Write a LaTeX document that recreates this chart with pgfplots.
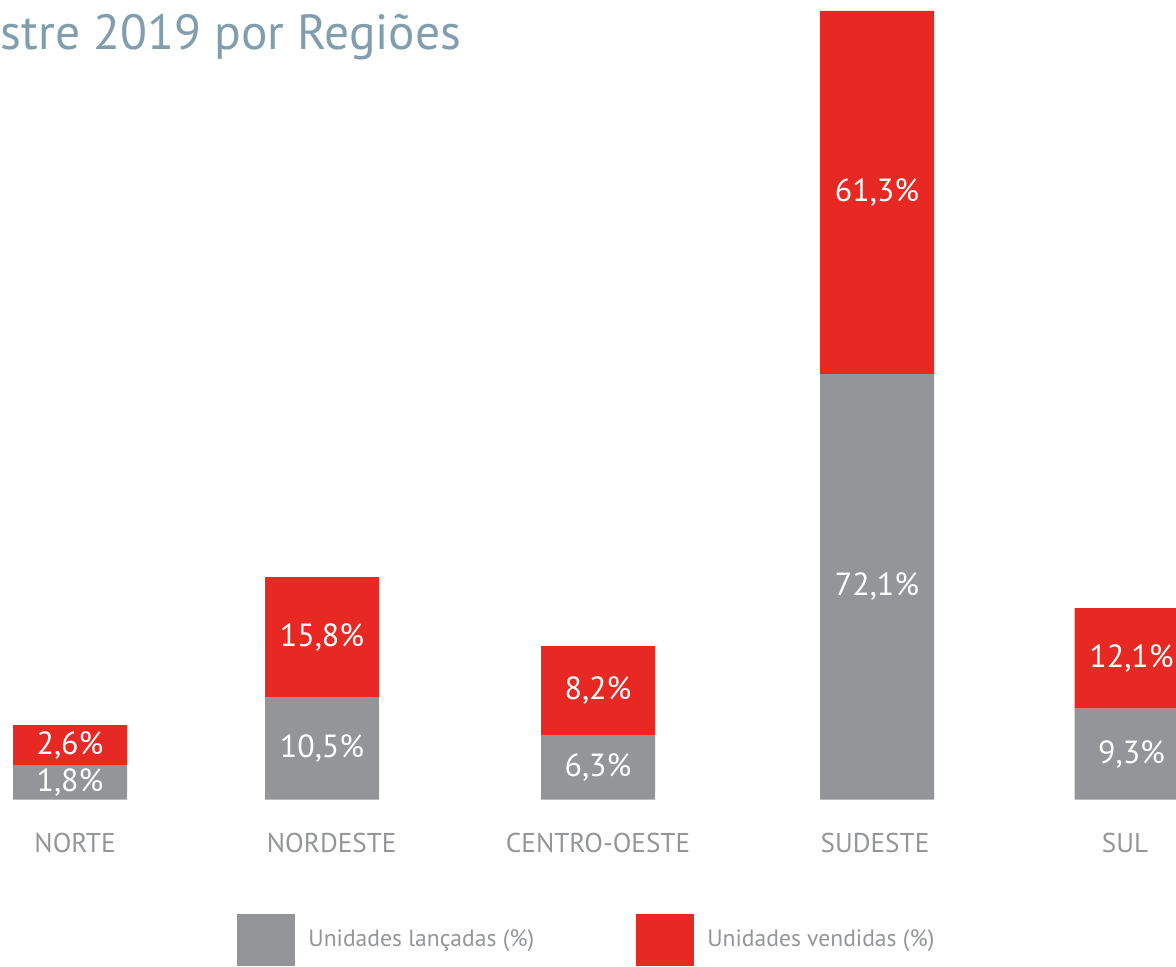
\documentclass[border=0pt]{standalone}
\usepackage{pgfplots}
\pgfplotsset{compat=1.18}
\usepackage{pgfplotstable}
\usepackage{fontspec}
\setmainfont{PT Sans}
\definecolor{cinza}{RGB}{147,149,152}
\definecolor{verm}{RGB}{232,41,35}
\definecolor{titulo}{RGB}{128,158,173}
\pgfplotstableread{
x g r lg lr
70 34.5 40 1,8 2,6
322 102.5 120 10,5 15,8
598 64.5 89 6,3 8,2
877 425.5 363 72,1 61,3
1131.5 90.8 100.7 9,3 12,1
}\dados
\pgfplotsset{base/.style={
  at={(0,0)}, anchor=south west,
  scale only axis, width=588pt, height=483pt,
  xmin=0, xmax=1176, ymin=-166.5, ymax=799.5,
  axis line style={draw=none}, tick style={draw=none},
  ytick=\empty}}
\begin{document}
\begin{tikzpicture}
\begin{axis}[base,
  ybar stacked, bar width=114,
  xtick={75,331.7,598,875,1125},
  xticklabels={NORTE,NORDESTE,CENTRO-OESTE,SUDESTE,SUL},
  xticklabel style={anchor=base, yshift=57pt, font=\fontsize{13.6}{16}\selectfont, text=cinza},
  legend columns=2,
  legend style={at={(axis cs:237,-140.5)}, anchor=west, draw=none, fill=none, inner sep=0pt, column sep=6.5pt, font=\fontsize{11.8}{14}\selectfont, text=cinza, nodes={inner sep=0pt, text=cinza}, /tikz/every even column/.append style={column sep=51pt}},
  legend image code/.code={\path[#1,draw=none] (0pt,-13pt) rectangle (29pt,13pt);},
]
\addplot[fill=cinza, draw=none] table[x=x, y=g]{\dados};
\addplot[fill=verm, draw=none] table[x=x, y=r]{\dados};
\legend{Unidades lançadas (\%), Unidades vendidas (\%)}
\node[anchor=base west, inner sep=0pt, text=titulo, font=\fontsize{24.7}{30}\selectfont] at (axis cs:0.5,749.5) {stre 2019 por Regiões};
\end{axis}
\begin{axis}[base, xtick=\empty, clip=false,
  nodes near coords={\pgfplotspointmeta\%},
  point meta=explicit symbolic,
  every node near coord/.append style={anchor=center, text=white, font=\fontsize{16}{18}\selectfont, inner sep=0pt}]
\addplot[draw=none, mark=none] table[x=x, y expr=\thisrow{g}/2, meta=lg]{\dados};
\addplot[draw=none, mark=none] table[x=x, y expr=\thisrow{g}+\thisrow{r}/2, meta=lr]{\dados};
\end{axis}
\pgfresetboundingbox
\path[use as bounding box] (0,0) rectangle (588pt,483pt);
\end{tikzpicture}
\end{document}
